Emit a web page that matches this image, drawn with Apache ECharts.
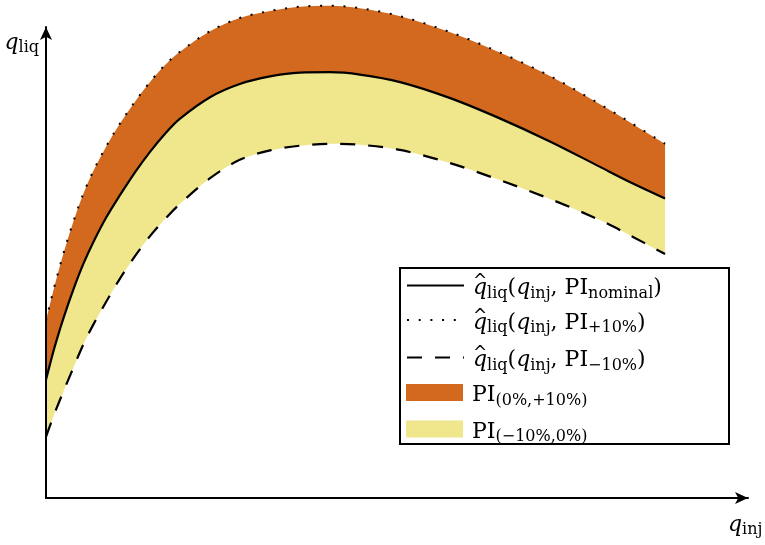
<!DOCTYPE html>
<html>
<head>
<meta charset="utf-8">
<script src="https://cdn.jsdelivr.net/npm/echarts@6/dist/echarts.min.js"></script>
<style>
  html, body { margin: 0; padding: 0; background: #ffffff; }
  #chart { width: 765px; height: 545px; }
</style>
</head>
<body>
<div id="chart"></div>
<script>
// Injection rate (x) and predicted liquid rate (y) for the three PI cases
const qInj = [0, 0.08, 0.16, 0.29, 0.44, 0.60, 0.76, 0.97, 1.20, 1.44, 1.68, 1.92, 2.16,
              2.65, 3.13, 3.62, 4.10, 4.59, 5.07, 5.72, 6.53, 7.33, 8.14, 8.95, 9.43, 10.0];
const qUpper = [37.6, 42.0, 46.1, 52.3, 58.6, 64.5, 69.3, 74.6, 79.6, 84.2, 88.3, 91.9, 94.7,
                99.1, 101.9, 103.4, 104.3, 104.5, 104.0, 102.3, 98.9, 94.6, 89.6, 83.6, 79.8, 75.2];
const qNominal = [25.1, 29.2, 33.0, 38.5, 44.2, 49.6, 54.2, 59.5, 64.4, 69.2, 73.5, 77.3, 80.5,
                  85.1, 87.9, 89.5, 90.3, 90.4, 89.9, 88.3, 84.9, 80.6, 75.7, 70.3, 67.1, 63.6];
const qLower = [13.0, 15.9, 18.7, 22.9, 27.6, 32.5, 36.7, 41.6, 46.7, 51.4, 55.6, 59.2, 62.4,
                67.9, 71.8, 73.8, 74.8, 75.2, 75.0, 73.9, 71.1, 67.5, 63.5, 59.0, 55.8, 51.8];

// Legend entries (rich-text labels keyed by series name), in display order
const legendOrder = ['nominal', 'plus10', 'minus10', 'band0p10', 'bandm100'];
const legendLabels = {
  nominal:  '{hat|^}{it|q}{sub|liq}{rm|(}{it|q}{sub|inj}{rm|, PI}{sub|nominal}{rm|)}',
  plus10:   '{hat|^}{it|q}{sub|liq}{rm|(}{it|q}{sub|inj}{rm|, PI}{sub|+10%}{rm|)}',
  minus10:  '{hat|^}{it|q}{sub|liq}{rm|(}{it|q}{sub|inj}{rm|, PI}{sub|\u221210%}{rm|)}',
  band0p10: '{rm|PI}{sub|(0%,+10%)}',
  bandm100: '{rm|PI}{sub|(\u221210%,0%)}'
};
const xAxisTitle = '{it|q}{sub|inj}';
const yAxisTitle = '{it|q}{sub|liq}';

const ORANGE = '#D2691E';
const KHAKI = '#F0E68C';
const FONT = 'DejaVu Serif';

const rich = {
  it:  { fontFamily: FONT, fontStyle: 'italic', fontSize: 22, color: '#000' },
  rm:  { fontFamily: FONT, fontSize: 22, color: '#000' },
  sub: { fontFamily: FONT, fontSize: 16, padding: [10, 0, 0, 0], color: '#000' },
  hat: { fontFamily: 'DejaVu Sans', fontSize: 17, width: 0, padding: [0, 0, 14, 0], color: '#000' }
};
const axisRich = {
  it:  { fontFamily: FONT, fontStyle: 'italic', fontSize: 22, color: '#000' },
  sub: { fontFamily: FONT, fontSize: 16, padding: [10, 0, 0, 0], color: '#000' }
};

// Rows are [y, x] so that stacking runs along the y dimension
const rowsYX = (ys) => qInj.map((x, i) => [ys[i], x]);
const diff = (a, b) => a.map((v, i) => +(v - b[i]).toFixed(3));
const encodeYX = { x: 1, y: 0 };

const axisCommon = {
  type: 'value',
  z: 10,
  axisLine: {
    show: true,
    symbol: ['none', 'arrow'],
    symbolSize: [9, 13],
    lineStyle: { color: '#000', width: 2 }
  },
  axisTick: { show: false },
  axisLabel: { show: false },
  splitLine: { show: false }
};

const SMOOTH = 0.33;
// Filled swatch used by the band entries
const SWATCH = 'path://M0 0H57V17H0Z';

// One single-row legend per entry so each row sits at its own height
const legendTops = { nominal: 272, plus10: 306.5, minus10: 344, band0p10: 384, bandm100: 420.5 };
const legends = legendOrder.map((name) => {
  const isBand = name.indexOf('band') === 0;
  const item = isBand ? { name: name, icon: SWATCH } : { name: name, itemStyle: { opacity: 0 } };
  return {
    orient: 'vertical',
    left: 406,
    top: legendTops[name],
    z: 6,
    padding: 0,
    itemWidth: 57,
    itemHeight: isBand ? 17 : 34,
    symbolKeepAspect: true,
    selectedMode: false,
    data: [item],
    formatter: (n) => legendLabels[n],
    textStyle: { padding: [6, 0, 0, 4], rich: rich }
  };
});

const chart = echarts.init(document.getElementById('chart'), null, { renderer: 'canvas' });
chart.setOption({
  animation: false,
  backgroundColor: '#ffffff',
  grid: { left: 46, right: 17, top: 27, bottom: 47, outerBoundsMode: 'none' },
  xAxis: Object.assign({}, axisCommon, {
    min: 0, max: 11.34,
    name: xAxisTitle,
    nameLocation: 'end',
    nameGap: -20,
    nameTextStyle: { align: 'left', verticalAlign: 'top', padding: [14, 0, 0, 0], rich: axisRich }
  }),
  yAxis: Object.assign({}, axisCommon, {
    min: 0, max: 100,
    name: yAxisTitle,
    nameLocation: 'end',
    nameGap: -16,
    nameTextStyle: { align: 'right', verticalAlign: 'middle', padding: [0, 7, 0, 0], rich: axisRich }
  }),
  legend: legends,
  graphic: [{
    type: 'rect',
    left: 399,
    top: 267,
    z: 5,
    shape: { width: 329, height: 176 },
    style: { fill: '#ffffff', stroke: '#000', lineWidth: 2 }
  }],
  series: [
    {
      name: 'minus10', type: 'line', stack: 'pi', data: rowsYX(qLower), encode: encodeYX,
      smooth: SMOOTH, symbol: 'none', clip: false, z: 4,
      lineStyle: { color: '#000', width: 2.2, type: [15, 13] },
      itemStyle: { color: '#000' }
    },
    {
      // PI(-10%,0%) band between the -10% and nominal curves
      name: 'bandm100', type: 'line', stack: 'pi', data: rowsYX(diff(qNominal, qLower)), encode: encodeYX,
      smooth: SMOOTH, symbol: 'none', clip: false, z: 2,
      lineStyle: { width: 0, opacity: 0 },
      areaStyle: { color: KHAKI, opacity: 1 },
      itemStyle: { color: KHAKI, borderWidth: 0 }
    },
    {
      // PI(0%,+10%) band between the nominal and +10% curves
      name: 'band0p10', type: 'line', stack: 'pi', data: rowsYX(diff(qUpper, qNominal)), encode: encodeYX,
      smooth: SMOOTH, symbol: 'none', clip: false, z: 2,
      lineStyle: { width: 0, opacity: 0 },
      areaStyle: { color: ORANGE, opacity: 1 },
      itemStyle: { color: ORANGE, borderWidth: 0 }
    },
    {
      name: 'nominal', type: 'line', data: rowsYX(qNominal), encode: encodeYX,
      smooth: SMOOTH, symbol: 'none', clip: false, z: 4,
      lineStyle: { color: '#000', width: 2.2, type: 'solid' },
      itemStyle: { color: '#000' }
    },
    {
      name: 'plus10', type: 'line', data: rowsYX(qUpper), encode: encodeYX,
      smooth: SMOOTH, symbol: 'none', clip: false, z: 4,
      lineStyle: { color: '#000', width: 2, type: [2, 9.7], cap: 'butt' },
      itemStyle: { color: '#000' }
    }
  ]
});
</script>
</body>
</html>
